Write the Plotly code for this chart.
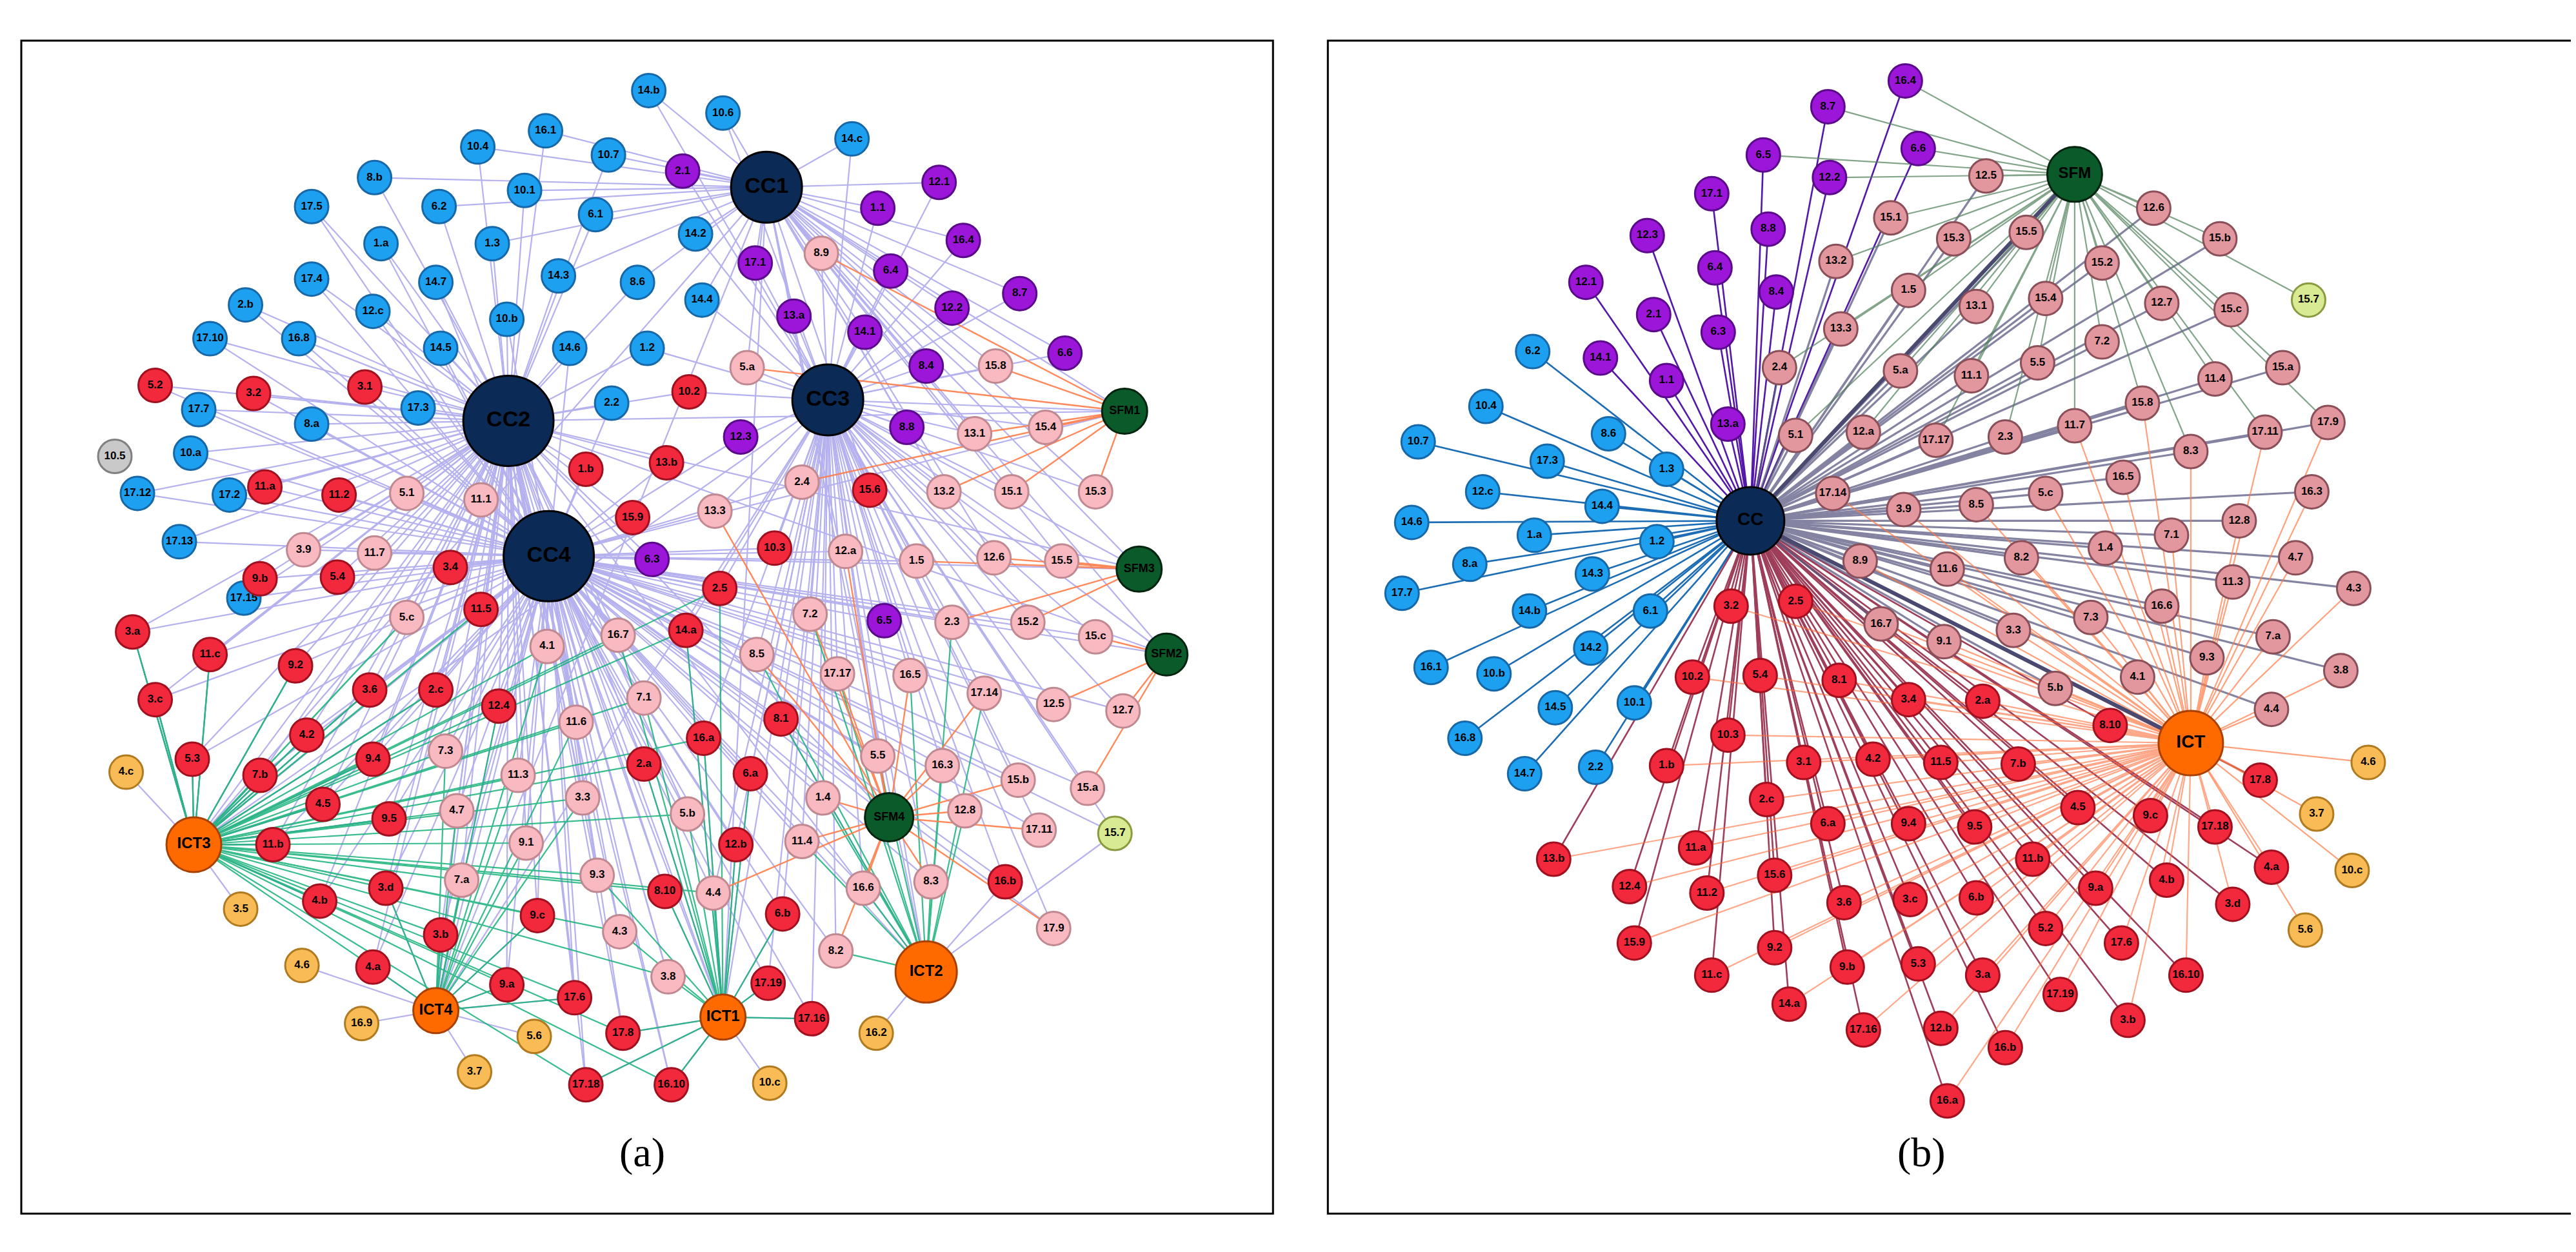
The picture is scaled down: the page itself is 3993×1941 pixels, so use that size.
import plotly.graph_objects as go

# ---------------- panel (a) nodes: (label, x, y) in picture units ----------------
a_blue = [("14.b",399,53),("10.6",445,67),("16.1",335,78),("10.7",374,93),("10.4",293,88),("14.c",525,83),
          ("8.b",229,107),("6.2",269,125),("10.1",322,115),("6.1",366,130),("17.5",190,125),("1.a",233,148),
          ("1.3",302,148),("14.2",428,142),("17.4",190,170),("14.7",267,172),("14.3",343,168),("8.6",392,172),
          ("2.b",149,186),("12.c",228,190),("10.b",311,195),("14.4",432,183),("17.10",127,207),("16.8",182,207),
          ("14.5",270,213),("14.6",350,213),("1.2",398,213),("17.7",120,251),("8.a",190,260),("17.3",256,250),
          ("2.2",376,247),("10.a",115,278),("17.12",82,303),("17.2",139,304),("17.13",108,333),("17.15",148,368)]
a_grey = [("10.5",68,280)]
a_red = [("5.2",93,236),("3.2",154,241),("3.1",223,237),("10.2",424,240),("11.a",161,299),("11.2",207,304),
         ("1.b",360,288),("13.b",410,284),("15.9",389,318),("15.6",536,301),("3.4",276,349),("10.3",477,337),
         ("9.b",158,356),("5.4",206,355),("2.5",443,362),("11.5",295,375),("3.a",79,389),("11.c",127,403),
         ("9.2",180,410),("14.a",422,388),("3.6",226,425),("2.c",267,425),("12.4",306,435),("3.c",93,431),
         ("4.2",187,453),("8.1",481,443),("16.a",433,455),("5.3",116,468),("9.4",228,468),("2.a",396,471),
         ("7.b",158,478),("6.a",462,477),("4.5",197,496),("9.5",238,505),("11.b",166,521),("12.b",453,521),
         ("3.d",236,548),("8.10",409,550),("9.c",330,565),("6.b",482,564),("4.b",195,556),("3.b",270,577),
         ("4.a",228,597),("9.a",311,608),("17.6",353,616),("17.19",473,607),("16.b",620,544),("17.8",383,638),
         ("17.16",500,629),("17.18",360,670),("16.10",413,670)]
a_purple = [("2.1",420,103),("12.1",579,110),("1.1",541,126),("16.4",594,146),("17.1",465,160),("6.4",549,165),
            ("8.7",629,179),("13.a",489,193),("14.1",533,203),("12.2",587,188),("6.6",657,216),("8.4",571,224),
            ("8.8",559,262),("12.3",456,268),("6.3",401,344),("6.5",545,382)]
a_pink = [("8.9",506,154),("5.a",460,225),("15.8",614,224),("13.1",601,266),("15.4",645,262),("5.1",249,303),
          ("11.1",295,307),("2.4",494,296),("13.3",440,314),("13.2",582,302),("15.1",624,302),("15.3",676,302),
          ("3.9",185,338),("11.7",229,340),("12.a",521,339),("1.5",565,345),("12.6",613,343),("15.5",655,345),
          ("5.c",249,380),("7.2",499,378),("2.3",587,383),("15.2",634,383),("15.c",676,392),("4.1",336,398),
          ("16.7",380,391),("8.5",466,403),("17.17",516,415),("16.5",561,416),("17.14",607,427),("12.5",650,434),
          ("12.7",693,438),("7.1",396,430),("11.6",354,445),("7.3",273,463),("11.3",318,478),("5.5",541,466),
          ("16.3",581,472),("15.b",628,481),("3.3",358,492),("1.4",507,492),("15.a",671,486),("4.7",280,500),
          ("5.b",423,502),("11.4",494,519),("12.8",595,500),("17.11",641,512),("9.1",323,520),("7.a",283,543),
          ("9.3",367,540),("16.6",532,548),("8.3",574,544),("4.4",439,551),("4.3",381,575),("3.8",411,603),
          ("8.2",515,587),("17.9",650,573)]
a_lgreen = [("15.7",688,514)]
a_yellow = [("4.c",75,476),("3.5",146,561),("4.6",184,596),("16.9",221,632),("5.6",328,640),("3.7",291,662),
            ("10.c",474,669),("16.2",540,638)]
a_cc = [("CC1",472,113,44),("CC2",312,258,56),("CC3",510,245,44),("CC4",337,342,56)]
a_ict = [("ICT3",117,521,34),("ICT4",267,624,28),("ICT1",445,628,28),("ICT2",571,600,38)]
a_sfm = [("SFM1",694,252,28),("SFM3",703,350,28),("SFM2",720,403,26),("SFM4",548,504,30)]

# ---------------- panel (b) nodes ----------------
b_cc = [("CC",1082,320,42)]
b_sfm = [("SFM",1283,105,34)]
b_ict = [("ICT",1355,458,40)]
b_purple = [("16.4",1178,47),("8.7",1130,63),("6.6",1186,89),("6.5",1090,93),("12.2",1131,107),("17.1",1058,117),
            ("8.8",1093,139),("12.3",1018,143),("6.4",1060,163),("8.4",1098,178),("12.1",980,172),("2.1",1022,192),
            ("6.3",1062,203),("14.1",989,219),("1.1",1030,233),("13.a",1068,260)]
b_blue = [("6.2",947,215),("10.4",918,249),("8.6",994,266),("10.7",876,271),("17.3",956,283),("1.3",1030,288),
          ("12.c",916,302),("14.4",990,311),("14.6",872,321),("1.a",948,329),("1.2",1024,333),("8.a",908,347),
          ("14.3",984,353),("17.7",866,365),("14.b",945,376),("6.1",1020,376),("16.1",884,411),("14.2",983,399),
          ("10.b",923,415),("10.1",1010,433),("16.8",905,455),("14.5",961,436),("14.7",942,477),("2.2",986,473)]
b_pink = [("12.5",1228,106),("12.6",1332,126),("15.1",1169,132),("15.b",1373,145),("15.3",1208,145),("15.5",1253,141),
          ("15.2",1300,160),("13.2",1135,159),("15.4",1265,182),("13.1",1222,187),("12.7",1337,185),("15.c",1380,189),
          ("1.5",1180,177),("13.3",1138,201),("2.4",1100,225),("5.a",1175,227),("11.1",1219,230),("5.5",1260,222),
          ("7.2",1300,209),("11.4",1370,232),("15.a",1412,225),("5.1",1110,267),("12.a",1152,265),("17.17",1197,270),
          ("2.3",1240,268),("11.7",1283,261),("15.8",1325,247),("17.9",1440,259),("17.11",1401,265),("8.3",1355,277),
          ("17.14",1133,303),("3.9",1177,313),("8.5",1222,310),("5.c",1265,303),("16.5",1313,293),("16.3",1430,302),
          ("12.8",1385,320),("8.9",1150,345),("11.6",1204,350),("8.2",1250,343),("1.4",1302,337),("7.1",1343,329),
          ("4.7",1420,343),("4.3",1456,362),("11.3",1381,358),("16.6",1337,373),("7.3",1293,380),("3.3",1245,388),
          ("9.1",1202,395),("16.7",1163,384),("7.a",1406,392),("9.3",1365,405),("3.8",1448,413),("4.1",1322,417),
          ("5.b",1271,424),("4.4",1405,437)]
b_lgreen = [("15.7",1428,183)]
b_red = [("3.2",1070,373),("2.5",1110,370),("10.2",1046,417),("5.4",1088,416),("8.1",1137,419),("3.4",1180,431),
         ("2.a",1226,432),("8.10",1305,447),("1.b",1030,472),("10.3",1068,453),("3.1",1115,470),("4.2",1158,468),
         ("11.5",1200,470),("7.b",1248,471),("4.5",1285,498),("9.c",1330,503),("17.18",1370,510),("17.8",1398,481),
         ("11.a",1048,523),("2.c",1092,493),("6.a",1130,508),("9.4",1180,508),("9.5",1221,510),("11.b",1257,530),
         ("13.b",960,530),("12.4",1007,547),("15.6",1097,540),("3.6",1140,557),("3.c",1181,555),("6.b",1222,554),
         ("9.a",1296,548),("4.b",1340,543),("4.a",1405,535),("11.2",1055,551),("15.9",1010,582),("9.2",1097,585),
         ("9.b",1142,597),("5.3",1186,595),("5.2",1265,573),("3.a",1226,602),("17.6",1312,582),("3.d",1381,558),
         ("11.c",1058,602),("14.a",1106,620),("17.16",1152,636),("12.b",1200,635),("17.19",1274,614),("16.b",1240,647),
         ("3.b",1316,630),("16.10",1352,602),("16.a",1204,680)]
b_yellow = [("4.6",1465,470),("3.7",1433,502),("10.c",1455,537),("5.6",1426,574)]

S = 2.5  # picture units -> screen px
fig = go.Figure()


def edges(pairs, color, width, opacity=1.0):
    xs, ys = [], []
    for (x0, y0), (x1, y1) in pairs:
        xs += [x0, x1, None]
        ys += [y0, y1, None]
    fig.add_trace(go.Scatter(x=xs, y=ys, mode="lines", hoverinfo="skip", opacity=opacity,
                             line=dict(color=color, width=width)))


def nearest(node, hubs, k=1):
    return sorted(hubs, key=lambda h: (h[1]-node[1])**2 + (h[2]-node[2])**2)[:k]


# ---- edges (a) ----
lav = []
for n in a_blue + a_red + a_purple + a_pink + a_lgreen:
    for h in nearest(n, a_cc, 2):
        lav.append(((n[1], n[2]), (h[1], h[2])))
for n in a_yellow + a_red + a_blue[-6:] + a_lgreen:
    if n[2] > 380 or n in a_yellow:
        h = nearest(n, a_ict)[0]
        lav.append(((n[1], n[2]), (h[1], h[2])))
for h in a_sfm + a_ict:
    for c in a_cc:
        lav.append(((h[1], h[2]), (c[1], c[2])))
edges(lav, "#9d98ea", 2.2, 0.75)
grn = []
for n in a_red + a_pink:
    if n[2] > 360 and n[1] < 620:
        h = nearest(n, a_ict)[0]
        grn.append(((n[1], n[2]), (h[1], h[2])))
        if n[1] < 450:
            grn.append(((n[1], n[2]), (a_ict[0][1], a_ict[0][2])))
edges(grn, "#17b27a", 2.2, 0.85)
org = []
for n in a_pink:
    if n[1] > 430:
        h = nearest(n, a_sfm)[0]
        org.append(((n[1], n[2]), (h[1], h[2])))
edges(org, "#ff7d4a", 2.4, 0.9)

# ---- edges (b) ----
cc, sfm, ict = b_cc[0], b_sfm[0], b_ict[0]
edges([((n[1], n[2]), (cc[1], cc[2])) for n in b_blue], "#1d6db5", 2.6)
edges([((n[1], n[2]), (cc[1], cc[2])) for n in b_purple], "#5418a8", 2.6)
edges([((n[1], n[2]), (cc[1], cc[2])) for n in b_red], "#8e1d3e", 2.6, 0.85)
edges([((n[1], n[2]), (ict[1], ict[2])) for n in b_red], "#ff6d3a", 2.2, 0.6)
edges([((n[1], n[2]), (cc[1], cc[2])) for n in b_pink], "#5b5a82", 3.2, 0.75)
edges([((n[1], n[2]), (sfm[1], sfm[2])) for n in b_pink[:30] + b_lgreen + b_purple[:5]], "#4f7f5a", 2.2, 0.7)
edges([((n[1], n[2]), (ict[1], ict[2])) for n in b_pink[25:] + b_yellow], "#ff7a45", 2.2, 0.7)
edges([((cc[1], cc[2]), (sfm[1], sfm[2])), ((cc[1], cc[2]), (ict[1], ict[2]))], "#4a4a70", 6)


def nodes(lst, fill, edge, size=52, font=17, fcolor="black"):
    fig.add_trace(go.Scatter(
        x=[n[1] for n in lst], y=[n[2] for n in lst], mode="markers+text",
        text=[n[0] for n in lst], textposition="middle center", hoverinfo="text",
        marker=dict(size=[n[3] * S if len(n) > 3 else size for n in lst], color=fill, opacity=1,
                    line=dict(color=edge, width=3)),
        textfont=dict(family="Liberation Sans", size=font, color=fcolor, weight="bold")))


for grp in (a_blue, b_blue):
    nodes(grp, "#1ea0f0", "#1668a8")
nodes(a_grey, "#c9c9c9", "#808080")
nodes(a_red, "#f2283c", "#a0101e")
nodes(b_red, "#f2283c", "#a0101e")
nodes(a_purple, "#9b16d9", "#5a0a8a")
nodes(b_purple, "#9b16d9", "#5a0a8a")
nodes(a_pink, "#f9b9c1", "#c08890")
nodes(b_pink, "#e2979f", "#8a4f58")
for grp in (a_lgreen, b_lgreen):
    nodes(grp, "#d8ea92", "#8a9a40")
for grp in (a_yellow, b_yellow):
    nodes(grp, "#f8bb55", "#b07a20")
nodes(a_cc, "#0b2a55", "#000000", font=34)
nodes(b_cc, "#0b2a55", "#000000", font=28)
nodes(a_ict, "#ff6a00", "#a84000", font=24)
nodes(b_ict, "#ff6a00", "#a84000", font=28)
nodes(a_sfm, "#0a5a2a", "#02240f", font=18)
nodes(b_sfm, "#0a5a2a", "#02240f", font=24)

fig.update_layout(
    width=3993, height=1941, showlegend=False,
    margin=dict(l=0, r=0, t=0, b=0),
    paper_bgcolor="white", plot_bgcolor="white",
    xaxis=dict(range=[0, 1597], visible=False, fixedrange=True),
    yaxis=dict(range=[777, 0], visible=False, fixedrange=True),
    shapes=[dict(type="rect", x0=10, x1=786, y0=22, y1=750, line=dict(color="black", width=3)),
            dict(type="rect", x0=820, x1=1592, y0=22, y1=750, line=dict(color="black", width=3))],
    annotations=[dict(x=395, y=712, text="(a)", showarrow=False,
                      font=dict(family="Liberation Serif", size=64, color="black")),
                 dict(x=1188, y=712, text="(b)", showarrow=False,
                      font=dict(family="Liberation Serif", size=64, color="black"))],
)

fig.write_html("out.html")
